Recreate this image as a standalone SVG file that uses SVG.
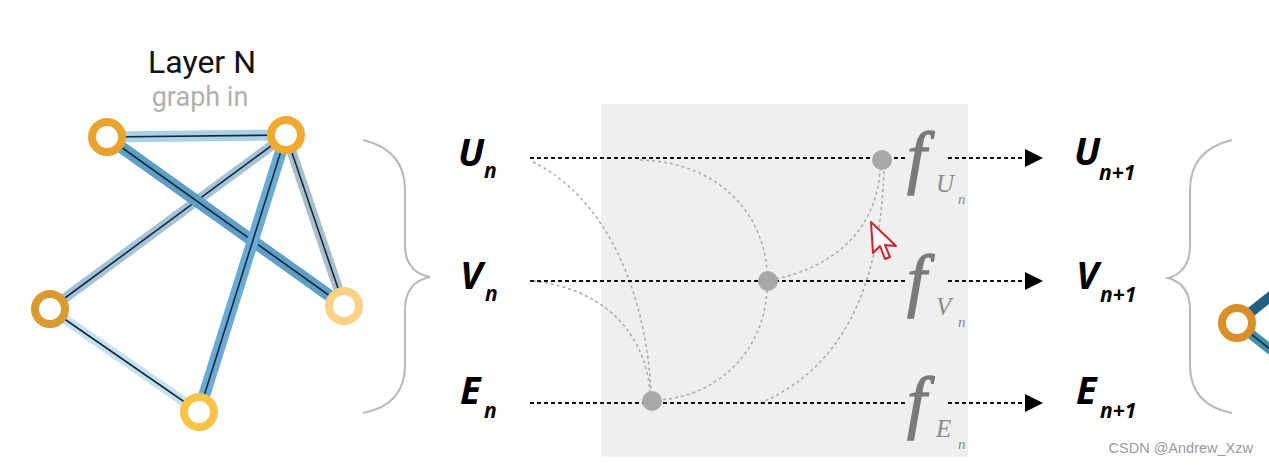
<svg xmlns="http://www.w3.org/2000/svg" width="1269" height="465" viewBox="0 0 1269 465">
<defs>
<style>
.title{font-family:Roboto,"Liberation Sans",sans-serif;font-size:32px;fill:#111}
.sub{font-family:Roboto,"Liberation Sans",sans-serif;font-size:27px;fill:#b0b0b0}
.var{font-family:"Open Sans","Liberation Sans",sans-serif;font-weight:bold;font-style:italic;font-size:38px;fill:#000}
.vs{font-family:"Open Sans","Liberation Sans",sans-serif;font-weight:bold;font-style:italic;font-size:21px;fill:#000}
.f{font-family:"Liberation Serif",serif;font-style:italic;font-size:70px;fill:#7a7a7a;stroke:#7a7a7a;stroke-width:1.3}
.fs{font-family:"Liberation Serif",serif;font-style:italic;font-size:25px;fill:#8a8a8a}
.fn{font-family:"Liberation Serif",serif;font-style:italic;font-size:15px;fill:#8a8a8a}
.main{stroke:#111;stroke-width:2;stroke-dasharray:4 3;fill:none}
.cur{stroke:#a8a8a8;stroke-width:1.5;stroke-dasharray:3 3;fill:none}
.dot{fill:#a8a8a8}
.ring{fill:#fff;stroke-width:8}
.inner{stroke:#1a2a35;stroke-width:1.6}
.brace{fill:none;stroke:#b8b8b8;stroke-width:2}
</style>
<marker id="arr" viewBox="0 0 10 10" refX="0" refY="5" markerWidth="18" markerHeight="22" markerUnits="userSpaceOnUse" orient="auto"><path d="M0,0 L10,5 L0,10 z" fill="#000"/></marker>
</defs>
<rect width="1269" height="465" fill="#fff"/>
<rect x="601" y="104" width="367" height="353" fill="#efefef"/>

<g id="title">
<text class="title" x="202" y="73" text-anchor="middle">Layer N</text>
<text class="sub" x="200" y="106" text-anchor="middle">graph in</text>
</g>

<g id="graph-edges">
<line x1="107" y1="137" x2="286" y2="135" stroke="#a9d1ea" stroke-width="11"/>
<line x1="107" y1="137" x2="286" y2="135" class="inner"/>
<line x1="286" y1="135" x2="50" y2="309" stroke="#a3c3db" stroke-width="10"/>
<line x1="286" y1="135" x2="50" y2="309" class="inner"/>
<line x1="286" y1="135" x2="344" y2="306" stroke="#a9bfcc" stroke-width="10"/>
<line x1="286" y1="135" x2="344" y2="306" class="inner"/>
<line x1="50" y1="309" x2="199" y2="412" stroke="#c3e3f3" stroke-width="10"/>
<line x1="50" y1="309" x2="199" y2="412" class="inner"/>
<line x1="107" y1="137" x2="344" y2="306" stroke="#5d9fc6" stroke-width="12"/>
<line x1="107" y1="137" x2="344" y2="306" class="inner"/>
<line x1="286" y1="135" x2="199" y2="412" stroke="#6aaad6" stroke-width="12"/>
<line x1="286" y1="135" x2="199" y2="412" class="inner"/>
</g>
<g id="node-a"><circle class="ring" cx="107" cy="137" r="15" stroke="#e8a22e"/></g>
<g id="node-b"><circle class="ring" cx="286" cy="135" r="15" stroke="#f0aa30"/></g>
<g id="node-c"><circle class="ring" cx="50" cy="309" r="15" stroke="#d99a32"/></g>
<g id="node-d"><circle class="ring" cx="344" cy="306" r="15" stroke="#f8d386"/></g>
<g id="node-e"><circle class="ring" cx="199" cy="412" r="15" stroke="#f5c448"/></g>

<g id="braces">
<path class="brace" d="M363,140 Q405,150 405,190 L405,245 Q405,272 430,277 Q405,282 405,310 L405,365 Q405,405 363,413"/>
<path class="brace" d="M1232,140 Q1190,150 1190,190 L1190,245 Q1190,272 1168,278 Q1190,284 1190,310 L1190,365 Q1190,405 1232,413"/>
</g>

<g id="connectors">
<path class="cur" d="M533,162 C600,195 645,280 651,392"/>
<path class="cur" d="M533,281 C600,288 645,330 650,392"/>
<path class="cur" d="M640,160 C720,162 764,215 767,272"/>
<path class="cur" d="M767,290 C764,350 720,395 660,400"/>
<path class="cur" d="M776,279 C835,266 876,230 880,170"/>
<path class="cur" d="M760,403 C840,370 880,290 884,170"/>
<path class="main" d="M530,158 L908,158"/>
<path class="main" d="M530,281 L908,281"/>
<path class="main" d="M530,403 L908,403"/>
<path class="main" d="M948,158 L1025,158" marker-end="url(#arr)"/>
<path class="main" d="M948,281 L1025,281" marker-end="url(#arr)"/>
<path class="main" d="M948,403 L1025,403" marker-end="url(#arr)"/>
</g>

<g id="node-u"><circle class="dot" cx="882" cy="160" r="10"/></g>
<g id="node-v"><circle class="dot" cx="768" cy="281" r="10"/></g>
<g id="node-en"><circle class="dot" cx="652" cy="401" r="10"/></g>

<g id="labels-in">
<text class="var" x="458" y="166">U</text><text class="vs" x="484" y="178">n</text>
<text class="var" x="460" y="289">V</text><text class="vs" x="485" y="301">n</text>
<text class="var" x="460" y="404">E</text><text class="vs" x="484" y="418">n</text>
</g>

<g id="f-u"><text class="f" x="907" y="180">f</text><text class="fs" x="936" y="192">U</text><text class="fn" x="958" y="204">n</text></g>
<g id="f-v"><text class="f" x="907" y="303">f</text><text class="fs" x="936" y="315">V</text><text class="fn" x="958" y="327">n</text></g>
<g id="f-e"><text class="f" x="907" y="425">f</text><text class="fs" x="936" y="437">E</text><text class="fn" x="958" y="449">n</text></g>

<g id="labels-out">
<text class="var" x="1074" y="165">U</text><text class="vs" x="1099" y="180">n+1</text>
<text class="var" x="1076" y="289">V</text><text class="vs" x="1100" y="302">n+1</text>
<text class="var" x="1076" y="404">E</text><text class="vs" x="1100" y="418">n+1</text>
</g>

<g id="node-right">
<line x1="1237" y1="323" x2="1275" y2="293" stroke="#1f5f82" stroke-width="10"/>
<line x1="1237" y1="323" x2="1275" y2="353" stroke="#3f8fae" stroke-width="10"/>
<line x1="1237" y1="323" x2="1275" y2="353" stroke="#1a2a35" stroke-width="1.6"/>
<circle class="ring" cx="1237" cy="323" r="15" stroke="#d9902a"/>
</g>

<g id="cursor">
<path d="M871,222 L873,253 L880,246 L885,259 L890,257 L885,245 L896,246 Z" fill="#fff" stroke="#d0202e" stroke-width="2" stroke-linejoin="round"/>
</g>

<text x="1253" y="453" text-anchor="end" font-family="'Liberation Sans',Arial,sans-serif" font-size="14.5" fill="#9a9a9a">CSDN @Andrew_Xzw</text>
</svg>
